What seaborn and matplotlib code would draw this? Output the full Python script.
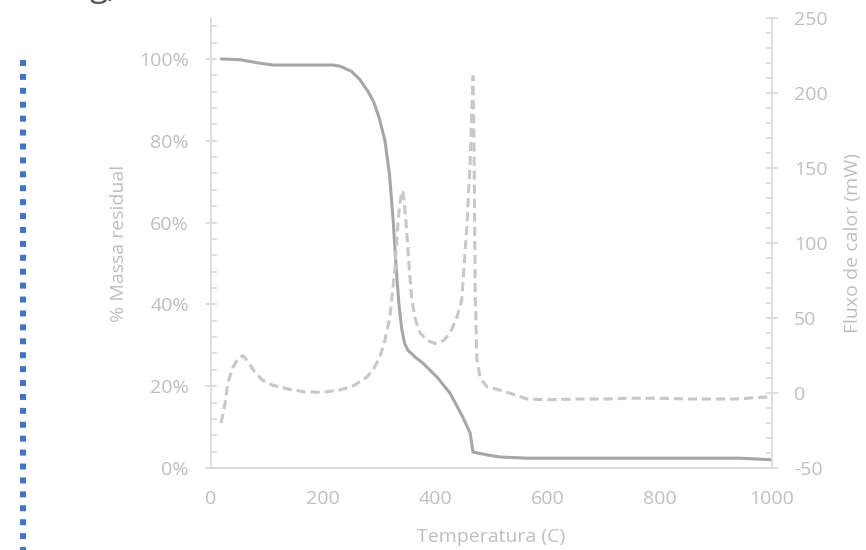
import matplotlib
matplotlib.use('Agg')
import matplotlib.pyplot as plt
import seaborn as sns
import pandas as pd
from matplotlib.ticker import MultipleLocator, FuncFormatter
from matplotlib.lines import Line2D

# TG curve: residual mass (%) vs temperature
tg_temp = [18, 52, 85, 111, 150, 218, 230, 250, 265, 280, 290, 300, 310, 318, 325,
           330, 335, 340, 345, 351, 365, 378, 403, 426, 449, 462, 467, 492, 515,
           563, 700, 943, 1000]
tg_mass = [100, 99.8, 99.0, 98.5, 98.5, 98.5, 98.2, 97, 95, 92, 89.5, 85.5, 80, 72, 60,
           49, 40, 34, 30.5, 28.8, 27, 25.6, 22.2, 18.3, 12.4, 8.5, 3.9, 3.2, 2.7,
           2.4, 2.4, 2.4, 2.0]

# DSC curve: heat flow (mW) vs temperature
dsc_temp = [18, 25, 30, 39, 48, 57, 66, 76, 91, 109, 137, 168, 200, 230, 255, 278,
            290, 301, 310, 319, 328, 334, 338, 342, 345, 349, 353, 358, 365, 373,
            385, 400, 415, 426, 438, 447, 453, 456, 462, 467, 469, 471, 474, 480,
            492, 515, 540, 563, 600, 650, 700, 750, 800, 850, 900, 943, 970, 1000]
dsc_flow = [-20, -7, 6.7, 17, 23, 25, 21, 15, 8.7, 5.3, 2.7, 0.7, 0.5, 2, 5, 10.7,
            16, 24, 35, 51, 84, 117, 130, 135, 125, 107, 85, 62, 48, 40,
            35, 33, 35, 40, 50, 62, 95, 111, 155, 211, 160, 67, 22, 10,
            4, 2, -1, -4, -4.5, -4, -4, -3.5, -3.5, -4, -4, -4, -3, -2.7]

x_ticks = [0, 200, 400, 600, 800, 1000]

sns.set_style('white')
plt.rcParams['font.family'] = ['Open Sans', 'DejaVu Sans']
plt.rcParams['axes.unicode_minus'] = False

axis_col = '#d9d9d9'
text_col = '#bfbfbf'

fig = plt.figure(figsize=(8.66, 5.5), dpi=100)
ax = fig.add_axes([211 / 866, 82 / 550, 561 / 866, 450 / 550])
ax2 = ax.twinx()

tg = pd.DataFrame({'T': tg_temp, 'm': tg_mass})
dsc = pd.DataFrame({'T': dsc_temp, 'q': dsc_flow})

sns.lineplot(data=tg, x='T', y='m', ax=ax, color='#a6a6a6', linewidth=2.2,
             estimator=None, sort=False)
sns.lineplot(data=dsc, x='T', y='q', ax=ax2, color='#c8c8c8', linewidth=2.2,
             linestyle=(0, (3, 1.6)), estimator=None, sort=False)

ax.set_xlim(0, 1000)
ax.set_ylim(0, 110)
ax2.set_ylim(-50, 250)
ax.set_xticks(x_ticks)
ax.xaxis.set_minor_locator(MultipleLocator(40))
ax.yaxis.set_major_locator(MultipleLocator(20))
ax.yaxis.set_minor_locator(MultipleLocator(4))
ax.yaxis.set_major_formatter(FuncFormatter(lambda v, p: f'{v:.0f}%' if v <= 100 else ''))
ax2.yaxis.set_major_locator(MultipleLocator(50))
ax2.yaxis.set_minor_locator(MultipleLocator(10))

for a in (ax, ax2):
    for s in a.spines.values():
        s.set_visible(False)
ax.spines['left'].set_visible(True)
ax.spines['bottom'].set_visible(True)
ax2.spines['right'].set_visible(True)
for s in (ax.spines['left'], ax.spines['bottom'], ax2.spines['right']):
    s.set_color(axis_col)
    s.set_linewidth(1.2)

ax.tick_params(axis='y', which='major', direction='inout', length=9, width=1.2,
               color=axis_col, labelcolor=text_col, labelsize=14, pad=11.5)
ax.tick_params(axis='y', which='minor', direction='in', length=4, width=1.2, color=axis_col)
ax.tick_params(axis='x', which='major', direction='out', length=6, width=1.2,
               color=axis_col, labelcolor=text_col, labelsize=14, pad=10)
ax.tick_params(axis='x', which='minor', direction='in', length=4.5, width=1.2, color=axis_col)
ax2.tick_params(axis='y', which='major', direction='inout', length=9, width=1.2,
                color=axis_col, labelcolor=text_col, labelsize=14, pad=11.5)
ax2.tick_params(axis='y', which='minor', direction='in', length=4, width=1.2, color=axis_col)

ax.set_xlabel('Temperatura (C)', color=text_col, fontsize=14, va='center')
ax.set_ylabel('% Massa residual', color=text_col, fontsize=14, va='center')
ax2.set_ylabel('Fluxo de calor (mW)', color=text_col, fontsize=14, va='center')
ax.xaxis.set_label_coords(0.5, (468 - 537) / 450)
ax.yaxis.set_label_coords((119 - 211) / 561, 0.5)
ax2.yaxis.set_label_coords((853 - 211) / 561, 0.5)

# cropped panel letter at the top and the blue dotted frame edge on the left
fig.text(90 / 866, 1 + 4 / 550, 'g)', fontsize=24, color='#595959', va='baseline', ha='left')
fig.add_artist(Line2D([22.5 / 866, 22.5 / 866], [1 - 60 / 550, 0], transform=fig.transFigure,
                      color='#4472c4', linewidth=4.3, linestyle=(0, (1, 1.33)),
                      solid_capstyle='butt', dash_capstyle='butt'))

fig.savefig('out.png', dpi=100)
